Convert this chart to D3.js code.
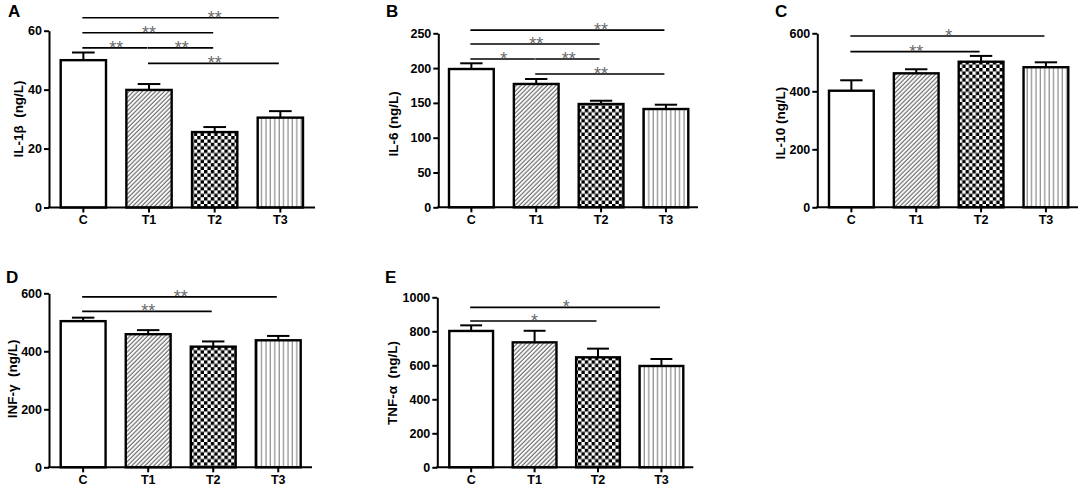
<!DOCTYPE html>
<html><head><meta charset="utf-8">
<script src="https://cdn.jsdelivr.net/npm/d3@7"></script>
<style>
body{margin:0;background:#fff}
svg{display:block}
text{font-family:"Liberation Sans",Arial,sans-serif}
</style>
</head><body>
<svg id="chart" width="1084" height="489"></svg>
<script>
// ---------- DATA ----------
const categories = ["C", "T1", "T2", "T3"];

const il1bMean = [50.0, 39.9, 25.6, 30.5];
const il1bErr  = [2.6, 2.0, 1.7, 2.2];
const il1bTicks = [0, 20, 40, 60];

const il6Mean = [198.7, 177.2, 148.4, 141.2];
const il6Err  = [8.2, 7.1, 4.7, 6.2];
const il6Ticks = [0, 50, 100, 150, 200, 250];

const il10Mean = [402, 462, 502, 483];
const il10Err  = [36, 14, 20, 17];
const il10Ticks = [0, 200, 400, 600];

const infgMean = [504, 459, 416, 438];
const infgErr  = [12, 14, 18, 15];
const infgTicks = [0, 200, 400, 600];

const tnfaMean = [802, 735, 647, 596];
const tnfaErr  = [33, 68, 51, 41];
const tnfaTicks = [0, 200, 400, 600, 800, 1000];

// significance brackets: [from, to, label, level (data units), label over category or null = midpoint]
const il1bSig = [["C","T3","**",64.4,"T2"],["C","T2","**",59.3,null],["C","T1","**",54.2,null],["T1","T2","**",54.2,null],["T1","T3","**",48.9,null]];
const il6Sig  = [["C","T3","**",254.7,"T2"],["C","T2","**",234.6,null],["C","T1","*",213.1,null],["T1","T2","**",213.1,null],["T1","T3","**",191.5,null]];
const il10Sig = [["C","T3","*",590.7,null],["C","T2","**",536.6,null]];
const infgSig = [["C","T3","**",588,null],["C","T2","**",538,null]];
const tnfaSig = [["C","T3","*",941,null],["C","T2","*",860.6,null]];

const panelLetters = ["A", "B", "C", "D", "E"];
const yTitles = ["IL-1β  (ng/L)", "IL-6 (ng/L)", "IL-10 (ng/L)", "INF-γ  (ng/L)", "TNF-α  (ng/L)"];

// ---------- LAYOUT ----------
const layouts = [
  {axisX:49,    axisEnd:315,  barsL:60.7,  barsR:303,   yTop:30.7,  yBot:207.5, letterX:8,   letterY:17,  titleX:18,  titleY:119},
  {axisX:438.3, axisEnd:698,  barsL:449,   barsR:688.3, yTop:33.3,  yBot:207.3, letterX:386, letterY:17,  titleX:393, titleY:124},
  {axisX:817.3, axisEnd:1078, barsL:829,   barsR:1068.3,yTop:33.3,  yBot:207.3, letterX:775, letterY:17,  titleX:780, titleY:123},
  {axisX:49,    axisEnd:312,  barsL:60.7,  barsR:300.7, yTop:293.3, yBot:467.3, letterX:6,   letterY:283, titleX:12,  titleY:379},
  {axisX:437.3, axisEnd:693.3,barsL:449.3, barsR:683.3, yTop:297.3, yBot:467.3, letterX:385, letterY:283, titleX:392, titleY:383}
];

const panels = [
  {mean:il1bMean, err:il1bErr, ticks:il1bTicks, sig:il1bSig},
  {mean:il6Mean,  err:il6Err,  ticks:il6Ticks,  sig:il6Sig},
  {mean:il10Mean, err:il10Err, ticks:il10Ticks, sig:il10Sig},
  {mean:infgMean, err:infgErr, ticks:infgTicks, sig:infgSig},
  {mean:tnfaMean, err:tnfaErr, ticks:tnfaTicks, sig:tnfaSig}
];

const fills = ["#fff", "url(#diag)", "url(#checker)", "url(#vert)"];

// ---------- DRAW ----------
const svg = d3.select("#chart");
svg.append("rect").attr("width",1084).attr("height",489).attr("fill","#fff");

const defs = svg.append("defs");
const pd = defs.append("pattern").attr("id","diag").attr("patternUnits","userSpaceOnUse")
  .attr("width",3.1).attr("height",10).attr("patternTransform","rotate(45)");
pd.append("rect").attr("width",3.1).attr("height",10).attr("fill","#fff");
pd.append("line").attr("x1",1).attr("x2",1).attr("y1",0).attr("y2",10).attr("stroke","#6e6e6e").attr("stroke-width",1.2);

const cs = 3.4;
const pc = defs.append("pattern").attr("id","checker").attr("patternUnits","userSpaceOnUse")
  .attr("width",cs*2).attr("height",cs*2);
pc.append("rect").attr("width",cs*2).attr("height",cs*2).attr("fill","#fff");
pc.append("rect").attr("width",cs).attr("height",cs).attr("fill","#000");
pc.append("rect").attr("x",cs).attr("y",cs).attr("width",cs).attr("height",cs).attr("fill","#000");

const pv = defs.append("pattern").attr("id","vert").attr("patternUnits","userSpaceOnUse")
  .attr("width",4.4).attr("height",10);
pv.append("rect").attr("width",4.4).attr("height",10).attr("fill","#fff");
pv.append("line").attr("x1",2).attr("x2",2).attr("y1",0).attr("y2",10).attr("stroke","#8a8a8a").attr("stroke-width",1.2);

const fontStack = '"Liberation Sans",Arial,sans-serif';

panels.forEach((p, i) => {
  const L = layouts[i];
  const g = svg.append("g");
  const x = d3.scaleBand().domain(categories).range([L.barsL, L.barsR]).paddingInner(0.31).paddingOuter(0);
  const bw = x.bandwidth();
  const y = d3.scaleLinear().domain([0, d3.max(p.ticks)]).range([L.yBot, L.yTop]);

  // bars
  g.selectAll("rect.bar").data(categories).enter().append("rect")
    .attr("class","bar")
    .attr("x", c => x(c))
    .attr("y", (c, j) => y(p.mean[j]))
    .attr("width", bw)
    .attr("height", (c, j) => L.yBot - y(p.mean[j]))
    .attr("fill", (c, j) => fills[j])
    .attr("stroke","#000").attr("stroke-width",2.4);

  // error bars
  const eg = g.selectAll("g.err").data(categories).enter().append("g").attr("class","err");
  eg.append("line")
    .attr("x1", c => x(c)+bw/2).attr("x2", c => x(c)+bw/2)
    .attr("y1", (c,j) => y(p.mean[j])).attr("y2", (c,j) => y(p.mean[j]+p.err[j]))
    .attr("stroke","#000").attr("stroke-width",2);
  eg.append("line")
    .attr("x1", c => x(c)+bw/4).attr("x2", c => x(c)+bw*3/4)
    .attr("y1", (c,j) => y(p.mean[j]+p.err[j])).attr("y2", (c,j) => y(p.mean[j]+p.err[j]))
    .attr("stroke","#000").attr("stroke-width",2);

  // y axis
  const ya = g.append("g").attr("transform",`translate(${L.axisX},0)`)
    .call(d3.axisLeft(y).tickValues(p.ticks).tickFormat(d3.format("d")).tickSize(5).tickSizeOuter(0).tickPadding(2));
  ya.select(".domain").attr("stroke","#000").attr("stroke-width",2);
  ya.selectAll(".tick line").attr("stroke","#000").attr("stroke-width",2);
  ya.selectAll(".tick text").attr("fill","#000").style("font-size","12.5px").style("font-weight","bold")
    .style("font-family",fontStack);

  // x axis
  const xa = g.append("g").attr("transform",`translate(0,${L.yBot})`)
    .call(d3.axisBottom(x).tickSize(5).tickSizeOuter(0).tickPadding(3));
  xa.select(".domain").remove();
  xa.selectAll(".tick line").attr("stroke","#000").attr("stroke-width",2);
  xa.selectAll(".tick text").attr("fill","#000").style("font-size","12.5px").style("font-weight","bold")
    .style("font-family",fontStack);
  g.append("line").attr("x1",L.axisX-1).attr("x2",L.axisEnd).attr("y1",L.yBot).attr("y2",L.yBot)
    .attr("stroke","#000").attr("stroke-width",2);

  // significance brackets
  const sg = g.selectAll("g.sig").data(p.sig).enter().append("g").attr("class","sig");
  sg.append("line")
    .attr("x1", d => x(d[0])+bw/2-1).attr("x2", d => x(d[1])+bw/2-1.5)
    .attr("y1", d => y(d[3])).attr("y2", d => y(d[3]))
    .attr("stroke","#000").attr("stroke-width",1.7);
  sg.append("text")
    .attr("x", d => d[4] ? x(d[4])+bw/2 : (x(d[0])+x(d[1]))/2+bw/2)
    .attr("y", d => y(d[3])+6)
    .attr("text-anchor","middle")
    .style("font-size","18px").attr("fill","#6a6a6a")
    .text(d => d[2]);

  // y title
  g.append("text")
    .attr("transform",`translate(${L.titleX},${L.titleY}) rotate(-90)`)
    .attr("text-anchor","middle").attr("dy","0.35em")
    .style("font-size","13.5px").style("font-weight","bold").style("white-space","pre")
    .attr("fill","#000")
    .text(yTitles[i]);

  // panel letter
  g.append("text").attr("x",L.letterX).attr("y",L.letterY)
    .style("font-size","17px").style("font-weight","bold").attr("fill","#000")
    .text(panelLetters[i]);
});
</script>
</body></html>
